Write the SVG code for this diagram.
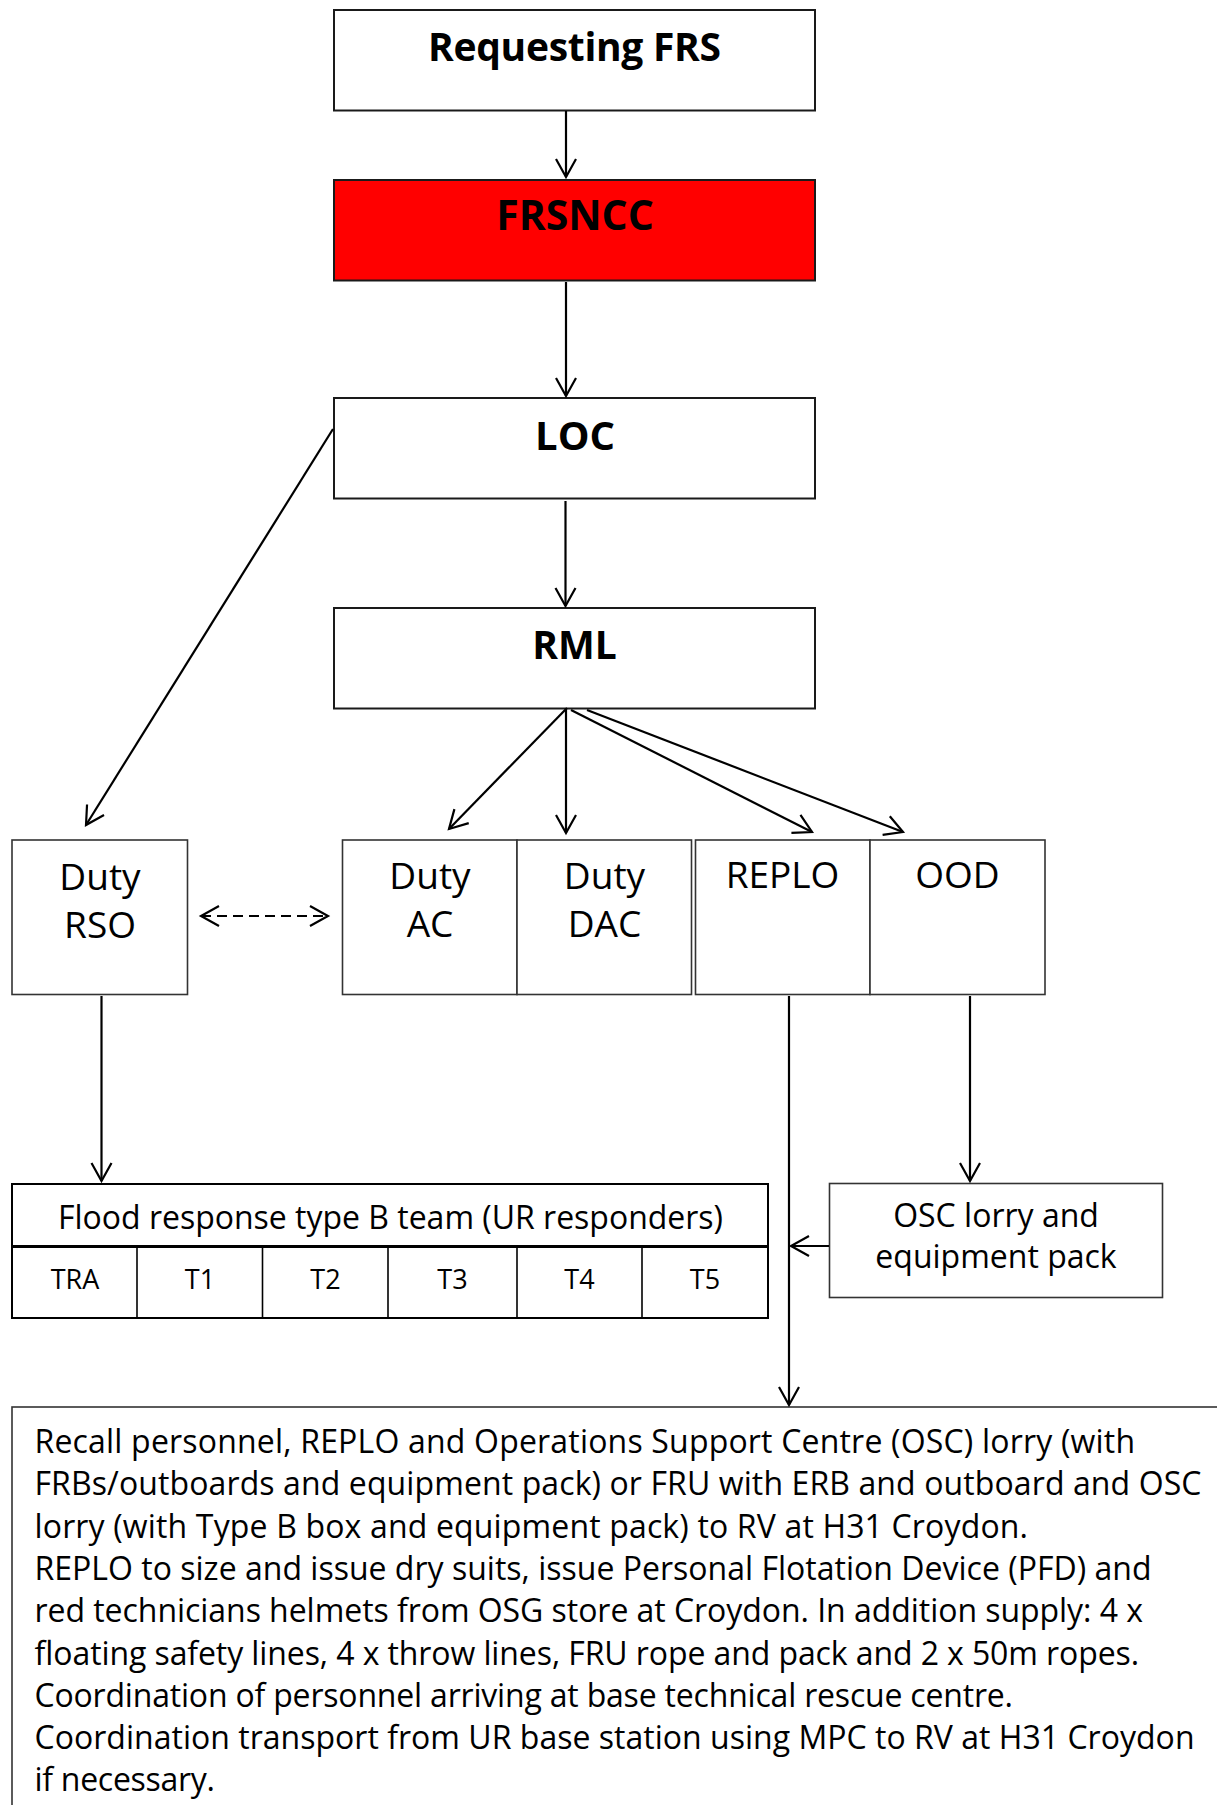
<svg xmlns="http://www.w3.org/2000/svg" width="1217" height="1805" viewBox="0 0 1217 1805">
<style>
text{font-family:"Open Sans","Noto Sans",sans-serif;fill:#000}
.b{font-weight:700;font-size:39px;text-anchor:middle}
.m{font-size:37px;text-anchor:middle}
.o{font-size:32px;text-anchor:middle}
.t{font-size:27px;text-anchor:middle}
.p{font-size:32px}
.top{fill:#fff;stroke:#1a1a1a;stroke-width:2}
.box{fill:#fff;stroke:#333;stroke-width:1.6}
.c{fill:none;stroke:#000;stroke-width:2.2}
</style>
<defs>
<marker id="arr" markerUnits="userSpaceOnUse" viewBox="-22 -13 26 26" markerWidth="26" markerHeight="26" refX="0" refY="0" orient="auto-start-reverse" overflow="visible">
<path d="M-18,-10 L0,0 L-18,10" fill="none" stroke="#000" stroke-width="2.2"/>
</marker>
</defs>
<rect width="1217" height="1805" fill="#fff"/>

<g id="requesting-frs">
<rect class="top" x="334" y="10" width="481" height="100.5"/>
<text class="b" x="574.5" y="61" textLength="293">Requesting FRS</text>
</g>
<g id="frsncc">
<rect class="top" x="334" y="180" width="481" height="100.5" style="fill:#ff0000"/>
<text class="b" x="575" y="230" style="font-size:41px">FRSNCC</text>
</g>
<g id="loc">
<rect class="top" x="334" y="398" width="481" height="100.5"/>
<text class="b" x="575" y="450" style="font-size:40px">LOC</text>
</g>
<g id="rml">
<rect class="top" x="334" y="608" width="481" height="100.5"/>
<text class="b" x="574.5" y="659">RML</text>
</g>

<g id="duty-rso">
<rect class="box" x="12" y="840" width="175.5" height="154.5"/>
<text class="m" x="100" y="890">Duty</text>
<text class="m" x="100" y="938">RSO</text>
</g>
<g id="duty-ac">
<rect class="box" x="342.5" y="840" width="174.5" height="154.5"/>
<text class="m" x="430" y="889">Duty</text>
<text class="m" x="430" y="937">AC</text>
</g>
<g id="duty-dac">
<rect class="box" x="517" y="840" width="174.5" height="154.5"/>
<text class="m" x="604.5" y="889">Duty</text>
<text class="m" x="604.5" y="937">DAC</text>
</g>
<g id="replo">
<rect class="box" x="695.5" y="840" width="174.5" height="154.5"/>
<text class="m" x="782.5" y="888">REPLO</text>
</g>
<g id="ood">
<rect class="box" x="870" y="840" width="175" height="154.5"/>
<text class="m" x="957.5" y="888">OOD</text>
</g>

<g id="flood-team">
<rect x="12" y="1184" width="756" height="134" fill="#fff" stroke="#000" stroke-width="2"/>
<line x1="12" y1="1246.5" x2="768" y2="1246.5" stroke="#000" stroke-width="3"/>
<g stroke="#000" stroke-width="1.6">
<line x1="137" y1="1246" x2="137" y2="1318"/>
<line x1="262.5" y1="1246" x2="262.5" y2="1318"/>
<line x1="388" y1="1246" x2="388" y2="1318"/>
<line x1="517" y1="1246" x2="517" y2="1318"/>
<line x1="642" y1="1246" x2="642" y2="1318"/>
</g>
<text class="o" x="390.5" y="1229" textLength="665">Flood response type B team (UR responders)</text>
<text class="t" x="75" y="1288.5">TRA</text>
<text class="t" x="200" y="1288.5">T1</text>
<text class="t" x="325.5" y="1288.5">T2</text>
<text class="t" x="452.5" y="1288.5">T3</text>
<text class="t" x="579.5" y="1288.5">T4</text>
<text class="t" x="705" y="1288.5">T5</text>
</g>

<g id="osc-lorry">
<rect class="box" x="829.5" y="1183.5" width="333" height="114"/>
<text class="o" x="996" y="1227">OSC lorry and</text>
<text class="o" x="996" y="1268">equipment pack</text>
</g>

<g id="instructions">
<rect class="box" x="12" y="1407" width="1250" height="500"/>
<text class="p" x="34.5" y="1453" textLength="1100.5">Recall personnel, REPLO and Operations Support Centre (OSC) lorry (with</text>
<text class="p" x="34.5" y="1495.3" textLength="1167">FRBs/outboards and equipment pack) or FRU with ERB and outboard and OSC</text>
<text class="p" x="34.5" y="1537.6" textLength="993.5">lorry (with Type B box and equipment pack) to RV at H31 Croydon.</text>
<text class="p" x="34.5" y="1580" textLength="1117">REPLO to size and issue dry suits, issue Personal Flotation Device (PFD) and</text>
<text class="p" x="34.5" y="1622.2" textLength="1108.5">red technicians helmets from OSG store at Croydon. In addition supply: 4 x</text>
<text class="p" x="34.5" y="1664.5" textLength="1104.5">floating safety lines, 4 x throw lines, FRU rope and pack and 2 x 50m ropes.</text>
<text class="p" x="34.5" y="1706.8" textLength="978.5">Coordination of personnel arriving at base technical rescue centre.</text>
<text class="p" x="34.5" y="1749" textLength="1160">Coordination transport from UR base station using MPC to RV at H31 Croydon</text>
<text class="p" x="34.5" y="1791.4" textLength="180.5">if necessary.</text>
</g>

<g id="connectors" class="c">
<path class="c" d="M566,111 V177" marker-end="url(#arr)"/>
<path class="c" d="M566,282 V396" marker-end="url(#arr)"/>
<path class="c" d="M565.5,501 V606" marker-end="url(#arr)"/>
<path class="c" d="M333,429 L86,825" marker-end="url(#arr)"/>
<path class="c" d="M567,708 L449,829" marker-end="url(#arr)"/>
<path class="c" d="M566,708 V833" marker-end="url(#arr)"/>
<path class="c" d="M571,710 L812,832" marker-end="url(#arr)"/>
<path class="c" d="M587,710 L903,832" marker-end="url(#arr)"/>
<path class="c" d="M101.5,996 V1181" marker-end="url(#arr)"/>
<path class="c" d="M789,996 V1405" marker-end="url(#arr)"/>
<path class="c" d="M970,996 V1181" marker-end="url(#arr)"/>
<path class="c" d="M829,1246 H791" marker-end="url(#arr)"/>
<path class="c" d="M201,916 H328" stroke-dasharray="10,6" marker-start="url(#arr)" marker-end="url(#arr)"/>
</g>
</svg>
